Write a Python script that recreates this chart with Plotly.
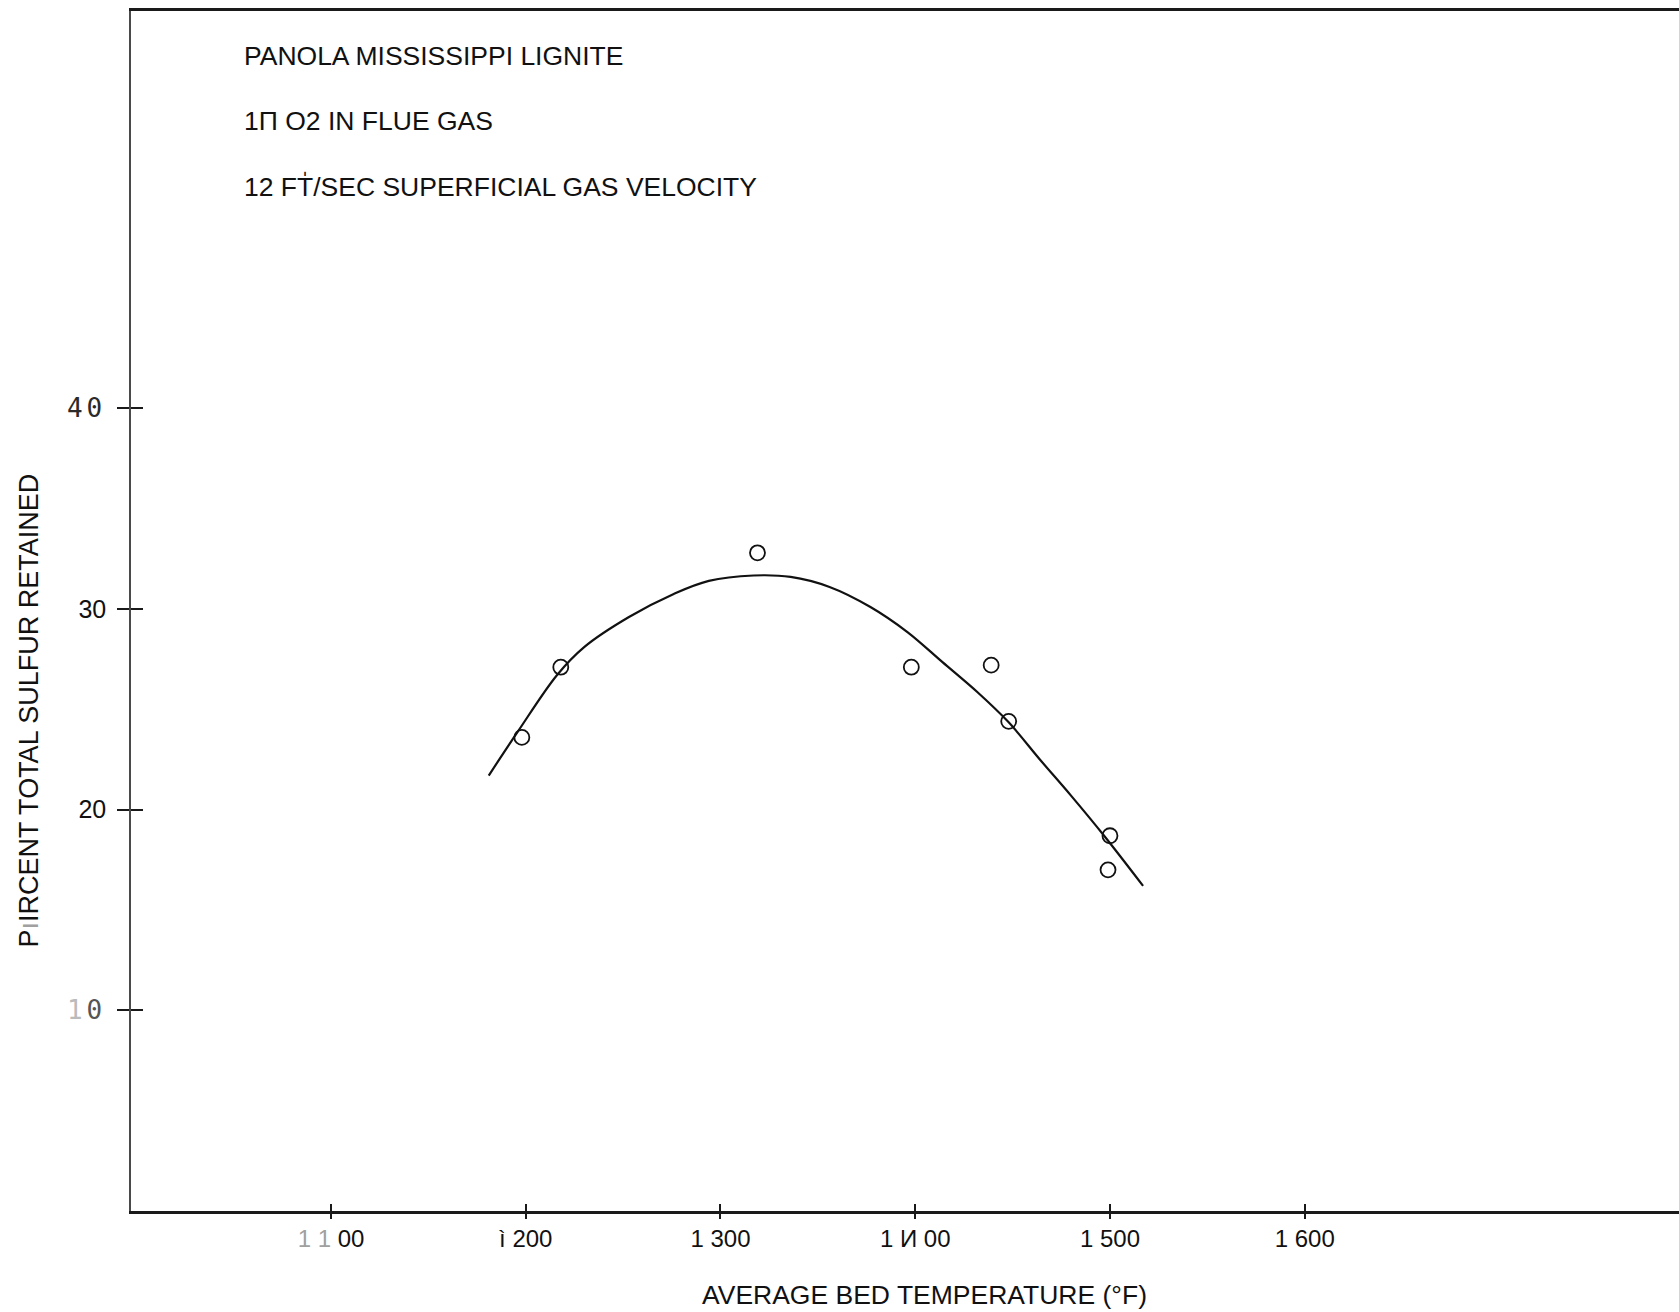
import plotly.graph_objects as go

# Measured sulfur retention (open circles)
obs_temp = [1198, 1218, 1319, 1398, 1439, 1448, 1500, 1499]
obs_pct = [23.6, 27.1, 32.8, 27.1, 27.2, 24.4, 18.7, 17.0]

# Hand-faired trend curve through the measurements
curve_temp = [1181, 1196, 1216, 1230, 1253, 1276, 1294, 1317, 1336, 1356,
              1377, 1396, 1414, 1432, 1448, 1464, 1480, 1497, 1517]
curve_pct = [21.7, 23.9, 26.7, 28.1, 29.6, 30.75, 31.4, 31.67, 31.6, 31.1,
             30.1, 28.85, 27.35, 25.85, 24.35, 22.5, 20.7, 18.7, 16.2]

x_tickvals = [1100, 1200, 1300, 1400, 1500, 1600]
x_ticktext = ["<span style='color:#a0a0a0'>1 1</span> 00", "ì 200", "1 300",
              "1 И 00", "1 500", "1 600"]
y_tickvals = [10, 20, 30, 40]
mono = "font-family:DejaVu Sans Mono;font-size:26px;letter-spacing:4px"
y_ticktext = [f"<span style='{mono};color:#555'><span style='color:#bbb'>1</span>0</span>",
              "20", "30",
              f"<span style='{mono};color:#2a2a2a'>40</span>"]

notes = ["PANOLA MISSISSIPPI LIGNITE",
         "1Π O2 IN FLUE GAS",
         "12 FT̍/SEC SUPERFICIAL GAS VELOCITY"]

FONT = "Liberation Sans, Arial, sans-serif"
INK = "#111111"
X_RANGE = [997.3, 1792.2]
Y_RANGE = [0, 59.8]

fig = go.Figure()
fig.add_trace(go.Scatter(
    x=curve_temp, y=curve_pct, mode="lines",
    line=dict(color=INK, width=2.2, shape="spline", smoothing=1.0),
    showlegend=False, hoverinfo="skip"))
fig.add_trace(go.Scatter(
    x=obs_temp, y=obs_pct, mode="markers",
    marker=dict(symbol="circle-open", size=15, color=INK,
                line=dict(width=1.8, color=INK)),
    showlegend=False))

for i, txt in enumerate(notes):
    fig.add_annotation(
        text=txt, xref="paper", yref="paper", x=0.0716, y=0.9625 - i * 0.0543,
        xanchor="left", yanchor="middle", showarrow=False,
        font=dict(family=FONT, size=26.5, color=INK))

# axis titles placed as free text
fig.add_annotation(
    text="P<span style='color:#a0a0a0'>ı</span>IRCENT TOTAL SULFUR RETAINED",
    xref="paper", yref="paper", x=-0.066, y=0.417, textangle=-90,
    xanchor="center", yanchor="middle", showarrow=False,
    font=dict(family=FONT, size=27, color=INK))
fig.add_annotation(
    text="AVERAGE BED TEMPERATURE (°F)",
    xref="paper", yref="paper", x=0.5123, y=-0.0698,
    xanchor="center", yanchor="middle", showarrow=False,
    font=dict(family=FONT, size=26.5, color=INK))

fig.update_layout(
    width=1679, height=1312,
    margin=dict(l=131, r=0, t=11, b=101),
    paper_bgcolor="white", plot_bgcolor="white",
    font=dict(family=FONT, size=25, color=INK),
    xaxis=dict(
        range=X_RANGE, tickvals=x_tickvals, ticktext=x_ticktext,
        showgrid=False, zeroline=False, showline=True, mirror=True,
        linecolor="#1a1a1a", linewidth=3, ticks="inside", ticklen=7,
        tickwidth=2, tickcolor="#1a1a1a", ticklabelstandoff=4,
        tickfont=dict(family=FONT, size=24, color=INK)),
    yaxis=dict(
        range=Y_RANGE, tickvals=y_tickvals, ticktext=y_ticktext,
        showgrid=False, zeroline=False, showline=True,
        linecolor="#4a4a4a", linewidth=1.5, ticks="outside", ticklen=12,
        tickwidth=1.8, tickcolor="#1a1a1a", ticklabelstandoff=6,
        tickfont=dict(family=FONT, size=25, color=INK)),
    # companion axes supply the other half of the crossing tick marks
    xaxis2=dict(range=X_RANGE, overlaying="x", anchor="y", side="bottom",
                tickvals=x_tickvals, showticklabels=False, ticks="outside",
                ticklen=7, tickwidth=2, tickcolor="#1a1a1a", showgrid=False,
                zeroline=False, showline=False),
    yaxis2=dict(range=Y_RANGE, overlaying="y", anchor="x", side="left",
                tickvals=y_tickvals, showticklabels=False, ticks="inside",
                ticklen=12, tickwidth=1.8, tickcolor="#1a1a1a", showgrid=False,
                zeroline=False, showline=False),
)
# empty trace to activate the companion axes
fig.add_trace(go.Scatter(x=[None], y=[None], xaxis="x2", yaxis="y2",
                         showlegend=False, hoverinfo="skip"))

fig.write_html("out.html")
